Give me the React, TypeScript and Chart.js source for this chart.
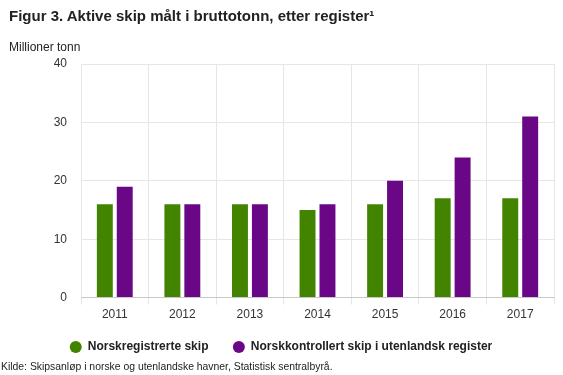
import React, { useEffect, useRef } from "react";
import { Chart, registerables } from "chart.js";

Chart.register(...registerables);

const years = ["2011", "2012", "2013", "2014", "2015", "2016", "2017"];
const norskregistrerte = [16, 16, 16, 15, 16, 17, 17];
const utenlandsk = [19, 16, 16, 16, 20, 24, 31];
const seriesNames = ["Norskregistrerte skip", "Norskkontrollert skip i utenlandsk register"];
const yTicks = [0, 10, 20, 30, 40];

const FONT = "'Liberation Sans', Arial, Helvetica, sans-serif";
const GREEN = "#428400";
const PURPLE = "#6a0786";

const legendShift = {
  id: "legendShift",
  afterLayout(chart: any) {
    if (chart.legend) {
      chart.legend.left += 4;
      chart.legend.right += 4;
    }
  },
};

export default function App() {
  const ref = useRef<HTMLCanvasElement>(null);
  useEffect(() => {
    if (!ref.current) return;
    const chart = new Chart(ref.current, {
      type: "bar",
      data: {
        labels: years,
        datasets: [
          { label: seriesNames[0], data: norskregistrerte, backgroundColor: GREEN, borderWidth: 0 },
          { label: seriesNames[1], data: utenlandsk, backgroundColor: PURPLE, borderWidth: 0 },
        ],
      },
      plugins: [legendShift],
      options: {
        animation: false,
        responsive: false,
        maintainAspectRatio: false,
        categoryPercentage: 0.59,
        barPercentage: 0.8,
        layout: { padding: { left: 0, right: 9, top: 64, bottom: 12 } },
        plugins: {
          tooltip: { enabled: false },
          title: { display: false },
          legend: {
            position: "bottom",
            labels: {
              usePointStyle: true,
              pointStyle: "circle",
              boxWidth: 12,
              boxHeight: 8.5,
              padding: 16,
              color: "#222",
              font: { family: FONT, size: 12, weight: "bold" },
              generateLabels: (c: any) =>
                Chart.defaults.plugins.legend.labels
                  .generateLabels(c)
                  .map((l: any, i: number) =>
                    i === 0 ? { ...l, text: l.text + "\u2002\u2009", lineWidth: 0 } : { ...l, lineWidth: 0 }
                  ),
            },
          },
        },
        scales: {
          x: {
            offset: true,
            grid: { offset: true, color: "#e6e6e6", tickLength: 7, drawTicks: true },
            border: { display: true, color: "#c8c8c8" },
            ticks: { color: "#333", padding: 3, font: { family: FONT, size: 12 } },
          },
          y: {
            min: 0,
            max: 40,
            afterFit: (s: any) => {
              s.width = 81;
            },
            afterBuildTicks: (s: any) => {
              s.ticks = yTicks.map((v) => ({ value: v }));
            },
            grid: { color: "#e6e6e6", drawTicks: false },
            border: { display: false },
            ticks: { color: "#333", padding: 14, font: { family: FONT, size: 12 } },
          },
        },
      },
    });
    return () => chart.destroy();
  }, []);

  return (
    <div style={{ position: "fixed", left: 0, top: 0, width: 563, height: 375, background: "#fff", fontFamily: FONT }}>
      <canvas ref={ref} width={563} height={375} style={{ position: "absolute", left: 0, top: 0 }} />
      <div style={{ position: "absolute", left: 9, top: 7, fontSize: 15, fontWeight: "bold", color: "#222", whiteSpace: "nowrap" }}>
        Figur 3. Aktive skip målt i bruttotonn, etter register¹
      </div>
      <div style={{ position: "absolute", left: 9, top: 40, fontSize: 12, color: "#222", whiteSpace: "nowrap" }}>
        Millioner tonn
      </div>
      <div style={{ position: "absolute", left: 1, top: 361, fontSize: 10.4, color: "#222", whiteSpace: "nowrap" }}>
        Kilde: Skipsanløp i norske og utenlandske havner, Statistisk sentralbyrå.
      </div>
    </div>
  );
}
